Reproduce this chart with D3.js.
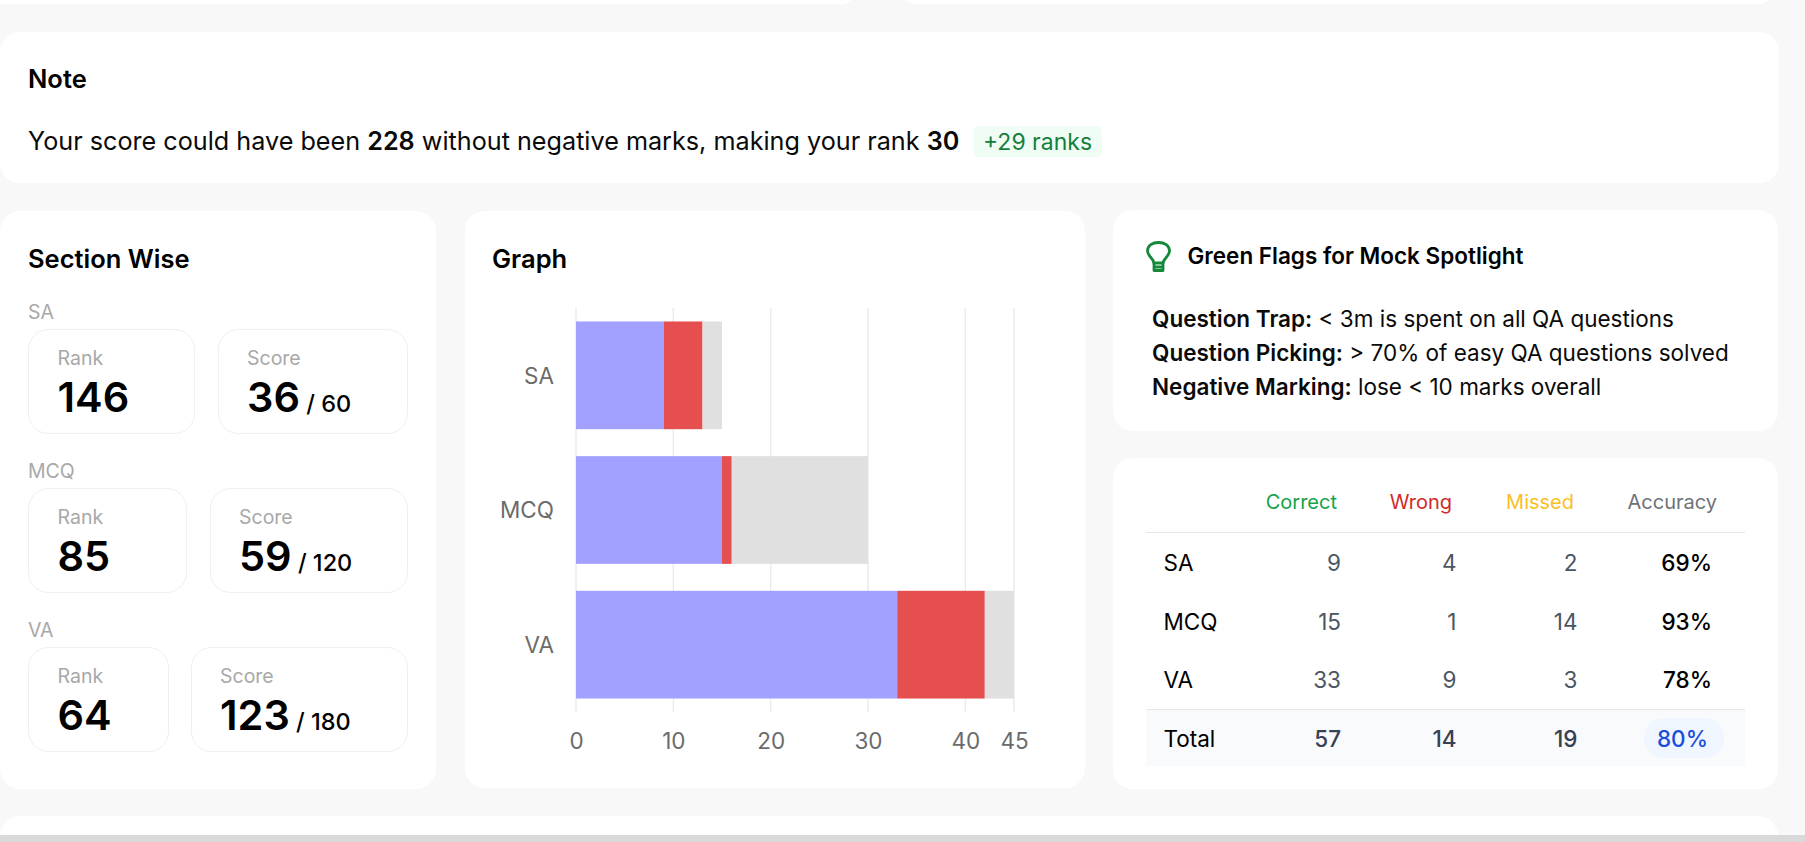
<!DOCTYPE html>
<html><head><meta charset="utf-8">
<script src="https://cdn.jsdelivr.net/npm/d3@7"></script>
<style>
html,body{margin:0;padding:0;background:#f8f8f8;overflow:hidden}
svg{display:block}
text{font-family:Inter,"Noto Sans",sans-serif}
</style></head><body>
<script>
const sections=["SA","MCQ","VA"];
const correct=[9,15,33];
const wrong=[4,1,9];
const missed=[2,14,3];
const ranks=[146,85,64];
const scores=[36,59,123];
const maxScores=[60,120,180];
const accuracy=["69%","93%","78%"];
const totals=["57","14","19","80%"];
const tickVals=[0,10,20,30,40,45];
const seriesKeys=["correct","wrong","missed"];
const seriesColors=["#a3a1ff","#e54f4f","#e0e0e0"];
const headers=["Correct","Wrong","Missed","Accuracy"];
const headerColors=["#16a34a","#cf2a2a","#fbbf24","#6f7278"];
const flags=[["Question Trap:","< 3m is spent on all QA questions"],["Question Picking:","> 70% of easy QA questions solved"],["Negative Marking:","lose < 10 marks overall"]];

const W=1805,H=842;
const svg=d3.select("body").append("svg").attr("width",W).attr("height",H);
function card(x,y,w,h,r=20,g=svg){return g.append("rect").attr("x",x).attr("y",y).attr("width",w).attr("height",h).attr("rx",r).attr("fill","#fff");}
function txt(x,y,s,size,weight=400,fill="#000",anchor="start"){return svg.append("text").attr("x",x).attr("y",y).attr("font-size",size).attr("font-weight",weight).attr("fill",fill).attr("text-anchor",anchor).text(s);}

// page cards
card(-20,-40,880,44);card(897,-40,881,44);
card(0,32,1779,151);card(0,211,436,578);card(465,211,620,577);card(1113,210,665,221);card(1113,458,665,331);
card(0,816,1778,60);
svg.append("rect").attr("x",0).attr("y",835).attr("width",W).attr("height",7).attr("fill","#d9d9d9");

// Note
txt(28,88,"Note",25.5,600);
const line=txt(28,150,"",25.2,400,"#0a0a0a");
[["Your score could have been ",400],["228",600],[" without negative marks, making your rank ",400],["30",600]].forEach(([s,w])=>line.append("tspan").attr("font-weight",w).text(s));
svg.append("rect").attr("x",973).attr("y",126).attr("width",129).attr("height",31).attr("rx",5).attr("fill","#f0fdf4");
txt(1037.5,150,"+29 ranks",23,400,"#15803d","middle");

// Section wise
txt(28,268,"Section Wise",25.5,600);
const layout=[{ly:319,y:329,rw:166,sx:218,sw:189},{ly:478,y:488,rw:158,sx:210,sw:197},{ly:637,y:647,rw:140,sx:191,sw:216}];
sections.forEach((s,i)=>{
  const L=layout[i];
  txt(28,L.ly,s,19.5,400,"#a8a8a8");
  [[28.5,L.rw],[L.sx+.5,L.sw]].forEach(([x,w])=>svg.append("rect").attr("x",x).attr("y",L.y+.5).attr("width",w).attr("height",104).attr("rx",20).attr("fill","#fff").attr("stroke","#efefef"));
  txt(57.5,L.y+36,"Rank",19.5,400,"#a8a8a8");
  txt(L.sx+29,L.y+36,"Score",19.5,400,"#a8a8a8");
  txt(57.5,L.y+83,ranks[i],41.5,600);
  const t=txt(L.sx+29,L.y+83,scores[i],41.5,600);
  t.append("tspan").attr("font-size",23.5).attr("font-weight",500).text(" / "+maxScores[i]);
});

// Graph
txt(492,268,"Graph",25.5,600);
const x=d3.scaleLinear().domain([0,45]).range([576,1014]);
const y=d3.scaleBand().domain(sections).range([308,712]).paddingInner(.2).paddingOuter(.1);
const rows=sections.map((s,i)=>({s,correct:correct[i],wrong:wrong[i],missed:missed[i]}));
svg.append("g").selectAll("line").data(tickVals).join("line")
  .attr("x1",d=>x(d)).attr("x2",d=>x(d)).attr("y1",308).attr("y2",712).attr("stroke","#ebebeb").attr("stroke-width",1.5);
const stack=d3.stack().keys(seriesKeys)(rows);
svg.append("g").selectAll("g").data(stack).join("g").attr("fill",(d,i)=>seriesColors[i])
  .selectAll("rect").data(d=>d).join("rect")
  .attr("x",d=>x(d[0])).attr("width",d=>x(d[1])-x(d[0]))
  .attr("y",d=>y(d.data.s)).attr("height",y.bandwidth());
const xa=svg.append("g").attr("transform","translate(0,712)").call(d3.axisBottom(x).tickValues(tickVals).tickSize(0).tickPadding(21));
xa.select(".domain").remove();
xa.selectAll("text").attr("font-size",22.5).attr("fill","#6b6b6b").attr("font-family","Inter").attr("dy","0.71em");
const ya=svg.append("g").attr("transform","translate(576,1)").call(d3.axisLeft(y).tickSize(0).tickPadding(22));
ya.select(".domain").remove();
ya.selectAll("text").attr("font-size",22.5).attr("fill","#6b6b6b").attr("font-family","Inter");

// Green flags
const bulb=svg.append("g").attr("transform","translate(1146,241)").attr("fill","none").attr("stroke","#15893a").attr("stroke-width",2.8).attr("stroke-linejoin","round").attr("stroke-linecap","round");
bulb.append("path").attr("d","M8 22 C7.5 17.5 1.5 15 1.5 10 C1.5 4.5 6.5 1.5 12.5 1.5 C18.5 1.5 23.5 4.5 23.5 10 C23.5 15 17.5 17.5 17 22 Z");
bulb.append("path").attr("d","M8 22 V29.5 H17 V22 M8 26 H17");
txt(1187.5,264,"Green Flags for Mock Spotlight",22.5,600);
flags.forEach(([a,b],i)=>{
  const t=txt(1152,[327,361,395][i],"",22.5,400,"#0a0a0a");
  t.append("tspan").attr("font-weight",600).text(a);
  t.append("tspan").text(" "+b);
});

// Table
const colRight=[1341,1456.5,1577.5,1712];
const hdrRight=[1337,1452,1574,1717];
const rowY=[571,630,688];
headers.forEach((h,i)=>txt(hdrRight[i],509,h,20,400,headerColors[i],"end"));
svg.append("rect").attr("x",1146).attr("y",709).attr("width",599).attr("height",57).attr("fill","#f8fafc");
[532,709].forEach(v=>svg.append("line").attr("x1",1146).attr("x2",1745).attr("y1",v+.5).attr("y2",v+.5).attr("stroke","#e5e7eb"));
sections.forEach((s,i)=>{
  txt(1163.5,rowY[i],s,22.5,400);
  [correct[i],wrong[i],missed[i]].forEach((v,j)=>txt(colRight[j],rowY[i],v,22.5,400,"#4b5563","end"));
  txt(colRight[3],rowY[i],accuracy[i],22.5,500,"#000","end");
});
txt(1163.5,747,"Total",22.5,400);
svg.append("rect").attr("x",1644).attr("y",718).attr("width",80).attr("height",40).attr("rx",20).attr("fill","#eff6ff");
totals.slice(0,3).forEach((v,j)=>txt(colRight[j],747,v,22.5,500,"#374151","end"));
txt(1708,747,totals[3],22.5,500,"#1d4ed8","end");
</script>
</body></html>
